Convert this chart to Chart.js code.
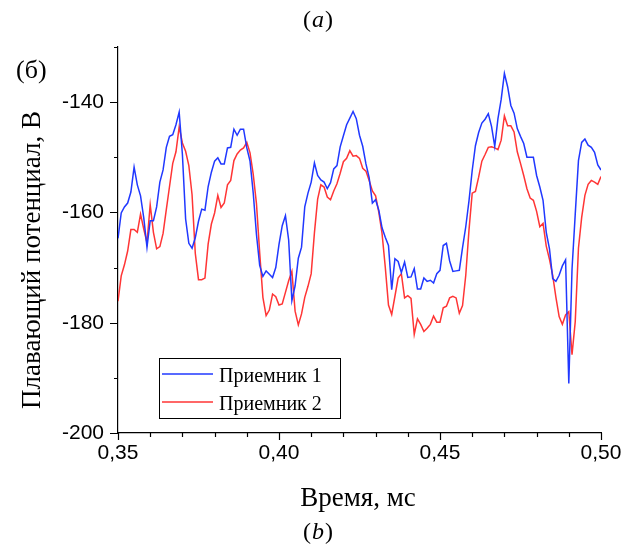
<!DOCTYPE html>
<html>
<head>
<meta charset="utf-8">
<script src="https://cdn.jsdelivr.net/npm/chart.js@4"></script>
<style>
  body { margin: 0; background: #fff; }
  canvas { display: block; }
</style>
</head>
<body>
<canvas id="mychart" width="638" height="548"></canvas>
<script>
const ctx = document.getElementById('mychart').getContext('2d');

// time grid, ms
const t0 = 0.35;
const dt = 0.001;

// floating potential, V (every 0.001 ms)
const receiver1 = [
  -164.7,-160.1,-159.0,-158.3,-156.3,-151.8,-155.0,-157.0,-161.0,-166.3,
  -161.5,-161.5,-159.0,-154.5,-152.3,-148.2,-146.2,-145.9,-144.1,-141.8,
  -149.5,-161.2,-165.6,-166.5,-164.6,-161.6,-159.4,-159.6,-155.3,-152.7,
  -150.7,-150.1,-151.2,-151.2,-148.3,-148.2,-144.9,-146.0,-144.9,-144.9,
  -148.3,-150.7,-156.5,-164.0,-169.6,-171.6,-170.6,-171.2,-171.8,-170.0,
  -165.8,-162.4,-160.6,-165.0,-176.0,-173.3,-168.3,-166.3,-159.0,-156.5,
  -154.5,-151.0,-153.3,-154.1,-154.5,-155.7,-154.6,-152.1,-151.5,-148.1,
  -146.1,-144.1,-142.9,-141.7,-143.0,-146.0,-148.0,-151.2,-153.7,-158.3,
  -157.7,-159.6,-162.8,-164.5,-166.0,-174.0,-168.4,-168.9,-170.9,-169.0,
  -171.8,-171.7,-170.2,-173.9,-173.9,-171.9,-172.5,-172.3,-172.8,-171.1,
  -170.5,-166.0,-165.6,-168.8,-170.7,-170.6,-170.5,-166.4,-162.6,-157.9,
  -152.4,-147.9,-145.5,-143.8,-143.1,-142.1,-144.4,-148.0,-143.0,-139.5,
  -134.8,-137.2,-140.6,-142.0,-144.8,-146.2,-147.5,-150.0,-150.0,-150.0,
  -153.3,-155.4,-157.8,-163.6,-166.6,-172.0,-172.5,-171.4,-169.7,-168.6,
  -191.0,-170.3,-160.3,-150.6,-147.3,-146.7,-147.8,-148.2,-149.1,-151.4,
  -152.3
];
const receiver2 = [
  -176.1,-171.5,-169.5,-167.0,-163.1,-163.1,-163.6,-160.3,-163.0,-165.5,
  -158.6,-163.6,-166.6,-166.2,-163.8,-159.5,-155.3,-151.1,-149.0,-144.5,
  -147.4,-148.9,-151.5,-156.8,-167.4,-172.2,-172.2,-171.9,-165.7,-162.1,
  -160.1,-156.9,-159.1,-158.3,-155.0,-154.2,-150.6,-149.4,-148.7,-148.3,
  -147.3,-149.2,-153.1,-158.4,-167.3,-175.4,-178.7,-177.7,-174.8,-175.3,
  -176.8,-176.6,-174.5,-172.4,-170.7,-177.9,-180.4,-178.4,-175.4,-173.4,
  -171.1,-163.7,-157.6,-155.0,-155.4,-157.2,-157.7,-156.1,-154.8,-152.9,
  -150.8,-150.2,-148.8,-149.8,-149.7,-150.2,-152.0,-152.5,-154.2,-156.1,
  -157.0,-160.0,-163.8,-169.9,-176.8,-178.5,-175.2,-171.9,-171.1,-175.5,
  -175.1,-175.6,-182.1,-179.3,-180.3,-181.6,-181.0,-180.3,-178.8,-179.9,
  -179.9,-177.3,-177.0,-175.5,-175.2,-175.5,-178.3,-176.9,-171.4,-163.2,
  -156.5,-156.2,-153.6,-150.7,-149.5,-148.2,-148.1,-148.3,-148.6,-146.9,
  -142.5,-144.3,-144.3,-145.4,-149.0,-151.1,-153.3,-155.7,-157.4,-157.8,
  -159.8,-162.6,-162.0,-166.1,-168.5,-171.4,-175.4,-178.9,-180.3,-178.6,
  -178.0,-185.8,-179.8,-166.5,-160.9,-156.9,-154.9,-154.2,-154.5,-154.9,
  -153.5
];

const seriesNames = ['Приемник 1', 'Приемник 2'];
const seriesColors = ['#2038ff', '#ff3535'];

// axis ticks
const xMajor = [0.35, 0.40, 0.45, 0.50];
const xMinor = [0.36, 0.37, 0.38, 0.39, 0.41, 0.42, 0.43, 0.44, 0.46, 0.47, 0.48, 0.49];
const yMajor = [-200, -180, -160, -140];
const yMinor = [-190, -170, -150, -130];

const serif = '"Liberation Serif", "DejaVu Serif", serif';
const sans = '"Liberation Sans", Arial, sans-serif';

const toPoints = arr => arr.map((v, i) => ({ x: t0 + i * dt, y: v }));

// hand drawn ticks, legend box and captions
const extras = {
  id: 'extras',
  afterDraw(chart) {
    const c = chart.ctx;
    const x = chart.scales.x;
    const y = chart.scales.y;
    c.save();
    c.strokeStyle = '#000';
    c.lineWidth = 1.2;
    c.beginPath();
    yMajor.forEach(v => { const p = Math.round(y.getPixelForValue(v)) + 0.5; c.moveTo(x.left - 8, p); c.lineTo(x.left, p); });
    yMinor.forEach(v => { const p = Math.round(y.getPixelForValue(v)) + 0.5; c.moveTo(x.left - 4, p); c.lineTo(x.left, p); });
    xMajor.forEach(v => { const p = Math.round(x.getPixelForValue(v)) + 0.5; c.moveTo(p, y.bottom); c.lineTo(p, y.bottom + 7); });
    xMinor.forEach(v => { const p = Math.round(x.getPixelForValue(v)) + 0.5; c.moveTo(p, y.bottom); c.lineTo(p, y.bottom + 4); });
    c.stroke();

    // legend
    c.lineWidth = 1;
    c.strokeRect(159.5, 358.5, 181, 60);
    c.font = '20px ' + serif;
    c.fillStyle = '#000';
    c.textBaseline = 'alphabetic';
    seriesNames.forEach((name, i) => {
      const ly = 374 + i * 28;
      c.strokeStyle = seriesColors[i];
      c.lineWidth = 1.5;
      c.beginPath();
      c.moveTo(162, ly);
      c.lineTo(213, ly);
      c.stroke();
      c.fillText(name, 219, ly + 8);
    });

    // captions
    c.fillStyle = '#000';
    c.textAlign = 'left';
    c.font = '26px ' + serif;
    c.fillText('(б)', 16, 78);

    const label = (txt, cx, base) => {
      c.font = '24px ' + serif;
      const wp = c.measureText('(').width;
      c.font = 'italic 24px ' + serif;
      const wl = c.measureText(txt).width;
      const w = wp * 2 + wl + 2;
      let px = cx - w / 2;
      c.font = '24px ' + serif;
      c.fillText('(', px, base);
      c.font = 'italic 24px ' + serif;
      c.fillText(txt, px + wp + 1, base);
      c.font = '24px ' + serif;
      c.fillText(')', px + wp + wl + 2, base);
    };
    label('a', 318, 27);
    label('b', 318, 539);

    c.textAlign = 'center';
    c.font = '27px ' + serif;
    c.fillText('Время, мс', 358, 506);

    c.translate(40, 260);
    c.rotate(-Math.PI / 2);
    c.font = '27px ' + serif;
    c.fillText('Плавающий потенциал, В', 0, 0);
    c.restore();
  }
};

const chart = new Chart(ctx, {
  type: 'line',
  data: {
    datasets: [{
      label: seriesNames[0],
      data: toPoints(receiver1),
      borderColor: seriesColors[0],
      borderWidth: 1.5,
      pointRadius: 0,
      tension: 0
    }, {
      label: seriesNames[1],
      data: toPoints(receiver2),
      borderColor: seriesColors[1],
      borderWidth: 1.5,
      pointRadius: 0,
      tension: 0
    }]
  },
  options: {
    responsive: false,
    animation: false,
    layout: { padding: { left: 0, right: 37, top: 47, bottom: 0 } },
    plugins: { legend: { display: false }, tooltip: { enabled: false } },
    scales: {
      x: {
        type: 'linear',
        min: 0.35,
        max: 0.5,
        grid: { display: false },
        border: { display: true, color: '#000', width: 1.2 },
        ticks: {
          stepSize: 0.05,
          padding: 0,
          color: '#000',
          font: { family: sans, size: 21 },
          maxRotation: 0,
          callback: v => v.toFixed(2).replace('.', ',')
        },
        afterFit: s => { s.height = 115; }
      },
      y: {
        min: -200,
        max: -130,
        grid: { display: false },
        border: { display: true, color: '#000', width: 1.2 },
        ticks: {
          stepSize: 20,
          padding: 6,
          color: '#000',
          font: { family: sans, size: 21 },
          callback: v => (v % 20 === 0 ? String(v) : '')
        },
        afterFit: s => { s.width = 118; }
      }
    }
  },
  plugins: [extras]
});
</script>
</body>
</html>
